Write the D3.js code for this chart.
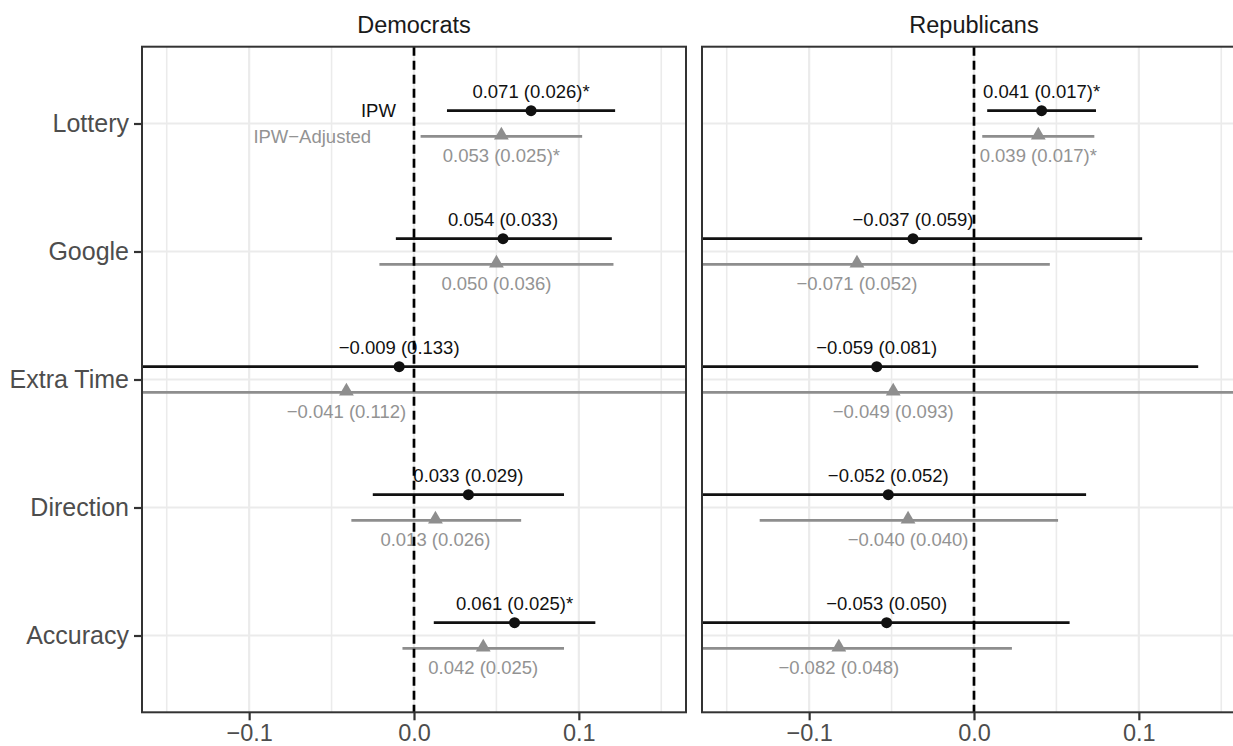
<!DOCTYPE html>
<html>
<head>
<meta charset="utf-8">
<script src="https://cdn.jsdelivr.net/npm/d3@7"></script>
<style>
  html, body { margin: 0; padding: 0; background: #ffffff; }
  svg { display: block; font-family: "Liberation Sans", Arial, Helvetica, sans-serif; }
</style>
</head>
<body>
<svg id="chart" width="1233" height="746"></svg>
<script>
// ---------------- data ----------------
const categories = ["Lottery", "Google", "Extra Time", "Direction", "Accuracy"];
const panels = ["Democrats", "Republicans"];
const xTicks = [-0.1, 0.0, 0.1];
const xMinorTicks = [-0.15, -0.05, 0.05, 0.15];
const seriesNames = ["IPW", "IPW\u2212Adjusted"];

// Democrats, IPW
const demIpwEst  = [0.071, 0.054, -0.009, 0.033, 0.061];
const demIpwSe   = [0.026, 0.033, 0.133, 0.029, 0.025];
const demIpwStar = [true, false, false, false, true];
const demIpwLo   = [0.020, -0.011, -0.270, -0.025, 0.012];
const demIpwHi   = [0.122, 0.120, 0.252, 0.091, 0.110];

// Democrats, IPW-Adjusted
const demAdjEst  = [0.053, 0.050, -0.041, 0.013, 0.042];
const demAdjSe   = [0.025, 0.036, 0.112, 0.026, 0.025];
const demAdjStar = [true, false, false, false, false];
const demAdjLo   = [0.004, -0.021, -0.261, -0.038, -0.007];
const demAdjHi   = [0.102, 0.121, 0.179, 0.065, 0.091];

// Republicans, IPW
const repIpwEst  = [0.041, -0.037, -0.059, -0.052, -0.053];
const repIpwSe   = [0.017, 0.059, 0.081, 0.052, 0.050];
const repIpwStar = [true, false, false, false, false];
const repIpwLo   = [0.008, -0.176, -0.254, -0.172, -0.170];
const repIpwHi   = [0.074, 0.102, 0.136, 0.068, 0.058];

// Republicans, IPW-Adjusted
const repAdjEst  = [0.039, -0.071, -0.049, -0.040, -0.082];
const repAdjSe   = [0.017, 0.052, 0.093, 0.040, 0.048];
const repAdjStar = [true, false, false, false, false];
const repAdjLo   = [0.005, -0.188, -0.260, -0.130, -0.187];
const repAdjHi   = [0.073, 0.046, 0.175, 0.051, 0.023];

// ---------------- build rows ----------------
function rows(panel, series, est, se, star, lo, hi) {
  return categories.map((c, i) => ({panel, series, cat: c, est: est[i], se: se[i], star: star[i], lo: lo[i], hi: hi[i]}));
}
const data = [
  ...rows("Democrats", 0, demIpwEst, demIpwSe, demIpwStar, demIpwLo, demIpwHi),
  ...rows("Democrats", 1, demAdjEst, demAdjSe, demAdjStar, demAdjLo, demAdjHi),
  ...rows("Republicans", 0, repIpwEst, repIpwSe, repIpwStar, repIpwLo, repIpwHi),
  ...rows("Republicans", 1, repAdjEst, repAdjSe, repAdjStar, repAdjLo, repAdjHi)
];

// ---------------- layout ----------------
const svg = d3.select("#chart");
const f3 = d3.format(".3f");
const fmt = v => f3(v).replace("-", "\u2212");
const fmtTick = v => d3.format(".1f")(v).replace("-", "\u2212");

const xDomain = [-0.165, 0.165];
const panelX = { "Democrats": [142, 686], "Republicans": [702, 1246] };
const y = d3.scalePoint().domain(categories).range([123.5, 635.5]);
const step = y.step();
const panelTop = y(categories[0]) - 0.6 * step;
const panelBottom = y(categories[categories.length - 1]) + 0.6 * step;
const dodge = 0.1 * step;

const colBlack = "#111111";
const colGrey = "#8e8e8e";
const seriesColor = [colBlack, colGrey];

panels.forEach((p, pi) => {
  const x = d3.scaleLinear().domain(xDomain).range(panelX[p]);
  const [x0, x1] = panelX[p];
  const g = svg.append("g");

  const clipId = "clip" + pi;
  svg.append("clipPath").attr("id", clipId)
    .append("rect").attr("x", x0).attr("y", panelTop).attr("width", x1 - x0).attr("height", panelBottom - panelTop);

  g.append("rect").attr("x", x0).attr("y", panelTop).attr("width", x1 - x0).attr("height", panelBottom - panelTop).attr("fill", "#fff");

  const inner = g.append("g").attr("clip-path", `url(#${clipId})`);

  inner.selectAll("line.minor").data(xMinorTicks).join("line")
    .attr("x1", d => x(d)).attr("x2", d => x(d)).attr("y1", panelTop).attr("y2", panelBottom)
    .attr("stroke", "#ebebeb").attr("stroke-width", 1.6);
  inner.selectAll("line.majx").data(xTicks).join("line")
    .attr("x1", d => x(d)).attr("x2", d => x(d)).attr("y1", panelTop).attr("y2", panelBottom)
    .attr("stroke", "#ebebeb").attr("stroke-width", 2.2);
  inner.selectAll("line.majy").data(categories).join("line")
    .attr("x1", x0).attr("x2", x1).attr("y1", d => y(d)).attr("y2", d => y(d))
    .attr("stroke", "#ebebeb").attr("stroke-width", 2.2);

  const pd = data.filter(d => d.panel === p);
  const yy = d => y(d.cat) + (d.series === 0 ? -dodge : dodge);

  inner.selectAll("line.err").data(pd).join("line")
    .attr("x1", d => x(d.lo)).attr("x2", d => x(d.hi))
    .attr("y1", yy).attr("y2", yy)
    .attr("stroke", d => seriesColor[d.series]).attr("stroke-width", 2.7);

  inner.selectAll("circle.pt").data(pd.filter(d => d.series === 0)).join("circle")
    .attr("cx", d => x(d.est)).attr("cy", yy).attr("r", 5.5).attr("fill", colBlack);
  const tri = d3.symbol().type(d3.symbolTriangle).size(95);
  inner.selectAll("path.pt").data(pd.filter(d => d.series === 1)).join("path")
    .attr("d", tri).attr("transform", d => `translate(${x(d.est)},${yy(d) - 1})`).attr("fill", colGrey);

  inner.selectAll("text.val").data(pd).join("text")
    .attr("x", d => x(d.est))
    .attr("y", d => d.series === 0 ? yy(d) - 12.5 : yy(d) + 25.8)
    .attr("text-anchor", "middle")
    .attr("font-size", 18.5)
    .attr("fill", d => d.series === 0 ? colBlack : "#939393")
    .text(d => `${fmt(d.est)} (${f3(d.se)})${d.star ? "*" : ""}`);

  if (pi === 0) {
    const lot = categories[0];
    inner.append("text").attr("x", x(-0.011)).attr("y", y(lot) - dodge + 6.6)
      .attr("text-anchor", "end").attr("font-size", 18.5).attr("fill", colBlack).text(seriesNames[0]);
    inner.append("text").attr("x", x(-0.026)).attr("y", y(lot) + dodge + 6.6)
      .attr("text-anchor", "end").attr("font-size", 18.5).attr("fill", "#939393").text(seriesNames[1]);
  }

  inner.append("line").attr("x1", x(0)).attr("x2", x(0)).attr("y1", panelTop).attr("y2", panelBottom)
    .attr("stroke", "#000").attr("stroke-width", 2.7).attr("stroke-dasharray", "9,5");

  g.append("rect").attr("x", x0).attr("y", panelTop).attr("width", x1 - x0).attr("height", panelBottom - panelTop)
    .attr("fill", "none").attr("stroke", "#333333").attr("stroke-width", 2);

  svg.append("text").attr("x", (x0 + x1) / 2).attr("y", 33).attr("text-anchor", "middle")
    .attr("font-size", 23.5).attr("fill", "#1a1a1a").text(p);

  const xa = svg.append("g").attr("transform", `translate(0,${panelBottom})`)
    .call(d3.axisBottom(x).tickValues(xTicks).tickFormat(fmtTick).tickSizeInner(8).tickSizeOuter(0).tickPadding(4));
  xa.select(".domain").remove();
  xa.selectAll(".tick line").attr("stroke", "#333333").attr("stroke-width", 2.2);
  xa.selectAll(".tick text").attr("fill", "#4d4d4d").attr("font-size", 23.5)
    .attr("font-family", "'Liberation Sans', Arial, Helvetica, sans-serif");

  if (pi === 0) {
    const ya = svg.append("g").attr("transform", `translate(${x0},0)`)
      .call(d3.axisLeft(y).tickSizeInner(8).tickSizeOuter(0).tickPadding(5));
    ya.select(".domain").remove();
    ya.selectAll(".tick line").attr("stroke", "#333333").attr("stroke-width", 2.2);
    ya.selectAll(".tick text").attr("fill", "#4d4d4d").attr("font-size", 25)
      .attr("font-family", "'Liberation Sans', Arial, Helvetica, sans-serif");
  }
});
</script>
</body>
</html>
